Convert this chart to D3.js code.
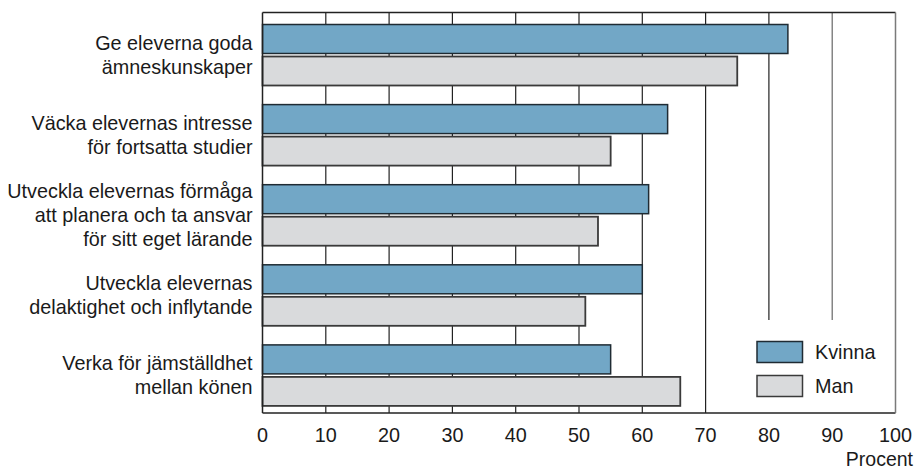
<!DOCTYPE html>
<html><head><meta charset="utf-8">
<script src="https://cdn.jsdelivr.net/npm/d3@7"></script>
<style>body{margin:0;background:#fff}svg{display:block}text{font-family:"Liberation Sans",Arial,sans-serif;fill:#1a1a1a}</style>
</head><body>
<svg id="c" width="916" height="469"></svg>
<script>
const categories = [
  ["Ge eleverna goda","ämneskunskaper"],
  ["Väcka elevernas intresse","för fortsatta studier"],
  ["Utveckla elevernas förmåga","att planera och ta ansvar","för sitt eget lärande"],
  ["Utveckla elevernas","delaktighet och inflytande"],
  ["Verka för jämställdhet","mellan könen"]
];
const series = ["Kvinna","Man"];
const kvinna = [83,64,61,60,55];
const man = [75,55,53,51,66];
const ticks = [0,10,20,30,40,50,60,70,80,90,100];
const axisTitle = "Procent";
const colors = {Kvinna:"#72a7c6", Man:"#d9dadc"};
const strokes = {Kvinna:"#1f2b33", Man:"#3a3a3a"};

(function(){
const svg = d3.select("#c");
const pL=262.5, pR=895.5, pT=12.5, pB=413;
const x = d3.scaleLinear().domain([0,100]).range([pL,pR]);
const ids = categories.map((d,i)=>i);
const y = d3.scaleBand().domain(ids).range([pT,pB]);
const yi = d3.scaleBand().domain(series).range([12,73]).paddingInner(0.094);

const data = ids.map(i=>({i, Kvinna:kvinna[i], Man:man[i]}));

// gridlines
const legendTop = 320;
svg.append("g").selectAll("line").data(ticks.slice(1,-1)).join("line")
  .attr("x1",d=>x(d)).attr("x2",d=>x(d))
  .attr("y1",pT).attr("y2",d=>d>70?legendTop:pB)
  .attr("stroke",d=>d===90?"#666":"#222").attr("stroke-width",1.2);
// frame
svg.append("line").attr("x1",pL).attr("x2",pR).attr("y1",pT).attr("y2",pT).attr("stroke","#222").attr("stroke-width",1.3);
svg.append("line").attr("x1",pL).attr("x2",pR).attr("y1",pB).attr("y2",pB).attr("stroke","#222").attr("stroke-width",1.3);
svg.append("line").attr("x1",pR).attr("x2",pR).attr("y1",pT).attr("y2",pB).attr("stroke","#7a7a7a").attr("stroke-width",1.5);

// bars
const g = svg.append("g");
series.forEach(s=>{
  g.selectAll("rect."+s).data(data).join("rect").attr("class",s)
    .attr("x",x(0)).attr("y",d=>y(d.i)+yi(s))
    .attr("width",d=>x(d[s])-x(0)).attr("height",yi.bandwidth())
    .attr("fill",colors[s]).attr("stroke",strokes[s]).attr("stroke-width",s==="Man"?1.8:1.5);
});
svg.append("line").attr("x1",pL).attr("x2",pL).attr("y1",pT).attr("y2",pB).attr("stroke","#222").attr("stroke-width",1.5);

// category labels
const lab = svg.append("g");
categories.forEach((lines,i)=>{
  const cy = y(i) + (yi("Kvinna")+yi("Man")+yi.bandwidth())/2;
  const n = lines.length;
  lines.forEach((t,k)=>{
    lab.append("text").attr("x",pL-10).attr("y",cy+(k-(n-1)/2)*24+6.5)
      .attr("text-anchor","end").attr("font-size",19.8).text(t);
  });
});

// x axis labels
svg.append("g").selectAll("text").data(ticks).join("text")
  .attr("x",d=>x(d)).attr("y",441.5).attr("text-anchor","middle")
  .attr("font-size",19.8).text(d=>d);
svg.append("text").attr("x",913).attr("y",466).attr("text-anchor","end").attr("font-size",19.5).text(axisTitle);

// legend
const lg = svg.append("g");
series.forEach((s,k)=>{
  lg.append("rect").attr("x",757).attr("y",341.5+k*34).attr("width",45.5).attr("height",21)
    .attr("fill",colors[s]).attr("stroke",strokes[s]).attr("stroke-width",1.5);
  lg.append("text").attr("x",815).attr("y",359+k*34).attr("font-size",19.8).text(s);
});
})();
</script>
</body></html>
